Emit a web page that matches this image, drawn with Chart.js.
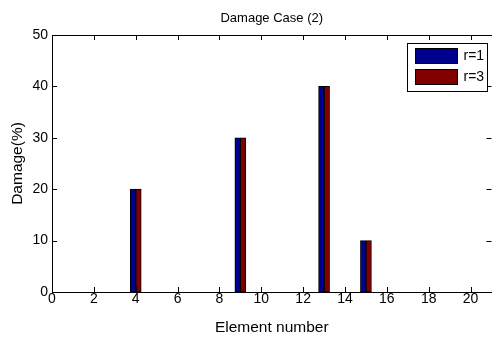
<!DOCTYPE html>
<html>
<head>
<meta charset="utf-8">
<script src="https://cdn.jsdelivr.net/npm/chart.js@4/dist/chart.umd.min.js"></script>
<style>
  html, body { margin: 0; padding: 0; background: #fff; }
  #wrap { width: 492px; height: 337px; }
</style>
</head>
<body>
<div id="wrap"><canvas id="c"></canvas></div>
<script>
// damaged elements and their damage level per case
const elements = [4, 9, 13, 15];
const damageR1 = [20, 30, 40, 10];
const damageR3 = [20, 30, 40, 10];
const xTicks = [0, 2, 4, 6, 8, 10, 12, 14, 16, 18, 20];
const yTicks = [0, 10, 20, 30, 40, 50];

const FONT = 'Liberation Sans, Arial, Helvetica, sans-serif';

// box around the axes with inward ticks on all four sides
const boxAxesPlugin = {
  id: 'boxAxes',
  afterDatasetsDraw(chart) {
    const { ctx, chartArea: a, scales } = chart;
    const len = 5;
    ctx.save();
    ctx.strokeStyle = '#000';
    ctx.lineWidth = 1;
    ctx.beginPath();
    scales.x.ticks.forEach(t => {
      const px = Math.round(scales.x.getPixelForValue(t.value)) + 0.5;
      ctx.moveTo(px, a.bottom); ctx.lineTo(px, a.bottom - len);
      ctx.moveTo(px, a.top); ctx.lineTo(px, a.top + len);
    });
    scales.y.ticks.forEach(t => {
      const py = Math.round(scales.y.getPixelForValue(t.value)) + 0.5;
      ctx.moveTo(a.left, py); ctx.lineTo(a.left + len, py);
      ctx.moveTo(a.right, py); ctx.lineTo(a.right - len, py);
    });
    ctx.stroke();
    ctx.strokeRect(Math.round(a.left) + 0.5, Math.round(a.top) + 0.5,
      Math.round(a.right - a.left), Math.round(a.bottom - a.top));
    ctx.restore();
  }
};

// legend box in the upper right corner of the axes
const boxLegendPlugin = {
  id: 'boxLegend',
  afterDraw(chart) {
    const { ctx, chartArea: a } = chart;
    const x0 = Math.round(a.right) - 84.5, y0 = a.top + 8.5;
    const w = 80, h = 48;
    ctx.save();
    ctx.fillStyle = '#fff';
    ctx.fillRect(x0, y0, w, h);
    ctx.strokeStyle = '#000';
    ctx.lineWidth = 1;
    ctx.strokeRect(x0, y0, w, h);
    ctx.font = '14px ' + FONT;
    ctx.textBaseline = 'middle';
    chart.data.datasets.forEach((ds, i) => {
      const sy = y0 + 5 + i * 21;
      ctx.fillStyle = ds.backgroundColor;
      ctx.fillRect(x0 + 8, sy, 42, 15);
      ctx.strokeRect(x0 + 8, sy, 42, 15);
      ctx.fillStyle = '#000';
      ctx.fillText(ds.label, x0 + 56, sy + 8);
    });
    ctx.restore();
  }
};

new Chart(document.getElementById('c'), {
  type: 'bar',
  data: {
    datasets: [
      {
        label: 'r=1',
        data: elements.map((e, i) => ({ x: e, y: damageR1[i] })),
        backgroundColor: '#00008F',
        borderColor: '#000',
        borderWidth: 1,
        borderSkipped: false,
        barThickness: 5.5
      },
      {
        label: 'r=3',
        data: elements.map((e, i) => ({ x: e, y: damageR3[i] })),
        backgroundColor: '#800000',
        borderColor: '#000',
        borderWidth: 1,
        borderSkipped: false,
        barThickness: 5.5
      }
    ]
  },
  options: {
    responsive: true,
    maintainAspectRatio: false,
    animation: false,
    events: [],
    layout: { padding: { left: 0, right: 0.5, top: 0, bottom: 0 } },
    plugins: {
      legend: { display: false },
      tooltip: { enabled: false },
      title: {
        display: true,
        text: 'Damage Case (2)',
        fullSize: false,
        color: '#000',
        font: { family: FONT, size: 13, weight: 'normal' },
        padding: { top: 10.7, bottom: 8.7 }
      }
    },
    scales: {
      x: {
        type: 'linear',
        min: 0,
        max: 21,
        offset: false,
        afterBuildTicks: s => { s.ticks = xTicks.map(v => ({ value: v })); },
        afterFit: s => { s.height = 45; },
        grid: { display: false, drawTicks: false },
        border: { display: false },
        ticks: { color: '#000', padding: 0, maxRotation: 0, font: { family: FONT, size: 14, lineHeight: 1 } },
        title: {
          display: true,
          text: 'Element number',
          color: '#000',
          font: { family: FONT, size: 15.5 },
          padding: { top: 0, bottom: 0 }
        }
      },
      y: {
        min: 0,
        max: 50,
        afterBuildTicks: s => { s.ticks = yTicks.map(v => ({ value: v })); },
        afterFit: s => { s.width = 52; },
        grid: { display: false, drawTicks: false },
        border: { display: false },
        ticks: { color: '#000', padding: 4, font: { family: FONT, size: 14 } },
        title: {
          display: true,
          text: 'Damage(%)',
          color: '#000',
          font: { family: FONT, size: 15.5 },
          padding: { top: 8, bottom: 0 }
        }
      }
    }
  },
  plugins: [boxAxesPlugin, boxLegendPlugin]
});
</script>
</body>
</html>
